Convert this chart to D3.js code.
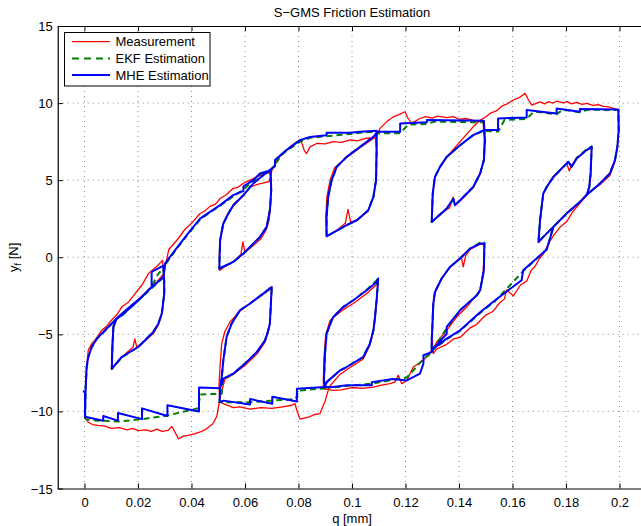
<!DOCTYPE html>
<html><head><meta charset="utf-8">
<script src="https://cdn.jsdelivr.net/npm/d3@7"></script>
<style>body{margin:0;background:#fff}svg{display:block}text{font-family:"Liberation Sans",Arial,Helvetica,sans-serif}</style>
</head><body><svg id="c" width="641" height="526"></svg>
<script>
// ---------- data ----------
const title = "S\u2212GMS Friction Estimation";
const xTicks = [0,0.02,0.04,0.06,0.08,0.1,0.12,0.14,0.16,0.18,0.2];
const yTicks = [-15,-10,-5,0,5,10,15];
const seriesNames = ["Measurement","EKF Estimation","MHE Estimation"];

// MHE estimate: ascending pass (q increasing, with inner loops)
const mheRise = [[0.0002,-10.35],[0.0004,-8.64],[0.0008,-7.12],[0.0014,-6.47],[0.0027,-5.82],[0.0046,-5.28],[0.0064,-4.96],[0.0089,-4.52],[0.0126,-3.88],[0.0176,-3.12],[0.0214,-2.58],[0.0251,-1.93],[0.0251,-0.95],[0.0295,-0.55],
[0.0298,-1.6],[0.0298,-2.36],[0.0289,-3.66],[0.0276,-4.31],[0.0257,-4.85],[0.0201,-5.82],[0.0139,-6.47],[0.0102,-7.23],
[0.0104,-6.0],[0.0108,-4.5],[0.012,-3.98],[0.0139,-3.77],[0.0189,-3.0],[0.0239,-2.14],[0.0295,-1.28],[0.0301,-0.41],[0.0338,0.45],
[0.0385,1.5],[0.0432,2.51],[0.0469,2.94],[0.0507,3.38],[0.0556,4.03],[0.0594,4.3],[0.0594,4.6],[0.0631,5.0],[0.0656,5.43],[0.0696,5.65],
[0.0698,4.35],[0.0693,3.05],[0.0681,1.97],[0.0656,1.32],[0.0594,0.24],[0.0556,-0.30],[0.0504,-0.73],
[0.0507,1.10],[0.0519,2.19],[0.0538,2.84],[0.0556,3.38],[0.0594,4.03],[0.0631,4.79],[0.0668,5.32],[0.0696,5.7],
[0.0712,5.9],[0.0712,6.3],[0.0755,6.95],[0.0806,7.6],[0.0843,7.8],[0.0905,7.92],[0.0905,8.07],[0.0993,8.07],[0.103,8.14],[0.1092,8.2],
[0.1092,6.95],[0.109,5.0],[0.108,3.92],[0.1061,3.05],[0.1018,2.40],[0.098,2.08],[0.0905,1.36],
[0.0905,2.62],[0.0911,3.92],[0.0924,5.0],[0.0943,5.86],[0.098,6.51],[0.103,7.16],[0.108,7.81],[0.1095,8.14],
[0.118,8.14],[0.118,8.68],[0.128,8.75],[0.128,8.9],[0.1493,8.85],
[0.1497,7.6],[0.1493,6.3],[0.1479,5.43],[0.1453,4.56],[0.1404,3.7],[0.1385,3.38],[0.1379,3.81],[0.1354,3.16],[0.1298,2.29],
[0.1302,4.14],[0.131,5.21],[0.1329,5.86],[0.1354,6.51],[0.1404,7.27],[0.1453,7.92],[0.1493,8.25],
[0.1546,8.25],[0.1546,9.0],[0.1653,9.07],[0.1653,9.55],[0.1765,9.33],[0.1765,9.65],[0.1852,9.44],[0.1852,9.62],[0.1996,9.59]];
// MHE estimate: descending pass
const mheFall = [[0.1996,9.59],[0.1997,8.25],[0.1992,7.16],[0.1983,6.3],[0.1964,5.43],[0.1927,4.79],[0.1877,4.03],[0.1852,3.59],[0.1802,2.83],[0.1753,1.97],[0.1715,1.32],[0.1697,0.99],
[0.1703,2.40],[0.1715,4.14],[0.1728,4.56],[0.1753,5.21],[0.179,5.86],[0.1809,6.19],[0.1821,5.86],[0.184,6.41],[0.1877,6.95],[0.1896,7.16],
[0.1892,5.43],[0.1887,4.56],[0.1877,4.03],[0.1852,3.59],[0.1802,2.83],[0.1753,1.97],[0.1728,0.5],[0.164,-0.84],[0.1634,-1.49],[0.1535,-2.79],[0.148,-3.55],[0.1404,-4.74],[0.1354,-5.28],[0.1304,-5.93],[0.1298,-6.15],
[0.1298,-5.39],[0.1304,-3.0],[0.131,-2.25],[0.1335,-1.38],[0.1366,-0.63],[0.1404,-0.08],[0.1441,0.56],[0.1479,0.89],[0.1495,0.89],
[0.1493,-0.84],[0.1479,-2.14],[0.1467,-2.47],[0.1404,-3.44],[0.1354,-4.52],[0.1354,-4.96],[0.1304,-5.93],[0.1298,-6.15],
[0.1267,-6.36],[0.1267,-6.9],[0.1254,-7.55],[0.1205,-7.99],[0.1153,-7.9],[0.1074,-8.1],[0.1074,-8.3],[0.098,-8.31],[0.093,-8.42],[0.0899,-8.42],
[0.0895,-7.99],[0.0899,-6.25],[0.0905,-4.96],[0.0924,-4.09],[0.093,-3.88],[0.0967,-3.23],[0.1005,-2.79],[0.1055,-2.14],[0.1092,-1.6],[0.1098,-1.38],
[0.1092,-2.79],[0.1086,-3.88],[0.108,-4.74],[0.1067,-5.6],[0.1042,-6.47],[0.098,-7.12],[0.0955,-7.34],[0.0905,-8.1],[0.0899,-8.42],
[0.0794,-8.53],[0.0794,-9.35],[0.0702,-9.05],[0.0702,-9.5],[0.0619,-9.2],[0.0619,-9.55],[0.052,-9.3],[0.0505,-9.4],
[0.0507,-8.5],[0.0513,-7.77],[0.0519,-6.69],[0.0531,-5.18],[0.055,-4.31],[0.0581,-3.44],[0.0619,-3.0],[0.0668,-2.36],[0.0693,-2.03],[0.07,-1.93],
[0.0696,-3.23],[0.0693,-4.31],[0.0687,-4.74],[0.0675,-5.39],[0.0644,-6.15],[0.06,-6.9],[0.0556,-7.55],[0.0519,-7.88],
[0.0507,-8.5],[0.0428,-8.45],[0.0428,-10.0],[0.031,-9.6],[0.031,-10.3],[0.0215,-9.8],[0.0215,-10.5],[0.0125,-10.1],[0.0125,-10.6],[0.007,-10.3],[0.007,-10.6],[0.0002,-10.35],[0.0002,-8.7],[-0.0006,-8.7]];

// EKF estimate
const ekfRise = [[0.0002,-10.5],[0.0004,-8.7],[0.0008,-7.2],[0.0014,-6.5],[0.0027,-5.85],[0.0046,-5.3],[0.0064,-5.0],[0.0089,-4.55],[0.0126,-3.9],[0.0176,-3.15],[0.0214,-2.6],[0.0251,-1.9],[0.0275,-1.1],[0.0295,-0.7],
[0.0298,-1.6],[0.0298,-2.36],[0.0289,-3.66],[0.0276,-4.31],[0.0257,-4.85],[0.0201,-5.82],[0.0139,-6.5],[0.0102,-7.25],
[0.0104,-6.0],[0.0108,-4.5],[0.012,-3.98],[0.0139,-3.8],[0.0189,-3.0],[0.0239,-2.2],[0.0295,-1.3],[0.0301,-0.5],[0.0338,0.4],
[0.0385,1.45],[0.0432,2.45],[0.0469,2.9],[0.0507,3.35],[0.0556,3.95],[0.0594,4.4],[0.0631,4.95],[0.0656,5.4],[0.0696,5.6],
[0.0698,4.35],[0.0693,3.05],[0.0681,1.97],[0.0656,1.3],[0.0594,0.22],[0.0556,-0.32],[0.0504,-0.75],
[0.0507,1.10],[0.0519,2.19],[0.0538,2.84],[0.0556,3.38],[0.0594,4.03],[0.0631,4.79],[0.0668,5.32],[0.0696,5.65],
[0.0712,6.0],[0.0735,6.6],[0.0755,6.9],[0.0806,7.5],[0.0843,7.75],[0.0905,7.85],[0.0993,8.0],[0.103,8.08],[0.1092,8.15],
[0.1092,6.95],[0.109,5.0],[0.108,3.92],[0.1061,3.05],[0.1018,2.40],[0.098,2.08],[0.0905,1.36],
[0.0905,2.62],[0.0911,3.92],[0.0924,5.0],[0.0943,5.86],[0.098,6.51],[0.103,7.16],[0.108,7.81],[0.1095,8.05],
[0.118,8.05],[0.121,8.6],[0.128,8.65],[0.131,8.8],[0.1493,8.75],
[0.1497,7.6],[0.1493,6.3],[0.1479,5.43],[0.1453,4.56],[0.1404,3.7],[0.1385,3.38],[0.1379,3.75],[0.1354,3.16],[0.1298,2.29],
[0.1302,4.14],[0.131,5.21],[0.1329,5.86],[0.1354,6.51],[0.1404,7.27],[0.1453,7.92],[0.1493,8.2],
[0.1546,8.15],[0.157,8.9],[0.1653,8.98],[0.168,9.45],[0.1765,9.28],[0.179,9.58],[0.1852,9.4],[0.188,9.57],[0.1996,9.55]];
const ekfFall = [[0.1996,9.55],[0.1997,8.25],[0.1992,7.16],[0.1983,6.3],[0.1964,5.43],[0.1927,4.79],[0.1877,4.03],[0.1852,3.59],[0.1802,2.83],[0.1753,1.97],[0.1715,1.32],[0.1697,0.99],
[0.1703,2.40],[0.1715,4.14],[0.1728,4.56],[0.1753,5.21],[0.179,5.86],[0.1809,6.19],[0.1821,5.9],[0.184,6.45],[0.1877,7.0],[0.1896,7.2],
[0.1892,5.43],[0.1887,4.56],[0.1877,4.03],[0.1852,3.59],[0.1802,2.83],[0.1753,1.97],[0.1728,0.5],[0.164,-0.9],[0.1535,-2.85],[0.148,-3.6],[0.1404,-4.78],[0.1354,-5.32],[0.1304,-5.98],[0.1298,-6.2],
[0.1298,-5.39],[0.1304,-3.0],[0.131,-2.25],[0.1335,-1.38],[0.1366,-0.63],[0.1404,-0.08],[0.1441,0.56],[0.1479,0.95],[0.1495,0.95],
[0.1493,-0.84],[0.1479,-2.14],[0.1467,-2.47],[0.1404,-3.44],[0.1354,-4.6],[0.1304,-5.98],[0.1298,-6.2],
[0.1267,-6.6],[0.1205,-7.8],[0.1153,-7.95],[0.1074,-8.2],[0.098,-8.35],[0.093,-8.45],[0.0899,-8.45],
[0.0895,-7.99],[0.0899,-6.25],[0.0905,-4.96],[0.0924,-4.09],[0.093,-3.88],[0.0967,-3.23],[0.1005,-2.79],[0.1055,-2.1],[0.1092,-1.5],[0.1098,-1.3],
[0.1092,-2.79],[0.1086,-3.88],[0.108,-4.74],[0.1067,-5.6],[0.1042,-6.47],[0.098,-7.12],[0.0955,-7.34],[0.0905,-8.1],[0.0899,-8.5],
[0.0800,-8.65],[0.0790,-9.2],[0.0700,-9.3],[0.0619,-9.4],[0.0505,-9.4],
[0.0507,-8.5],[0.0513,-7.77],[0.0519,-6.69],[0.0531,-5.18],[0.055,-4.31],[0.0581,-3.44],[0.0619,-3.0],[0.0668,-2.36],[0.0693,-2.0],[0.07,-1.9],
[0.0696,-3.23],[0.0693,-4.31],[0.0687,-4.74],[0.0675,-5.39],[0.0644,-6.15],[0.06,-6.9],[0.0556,-7.55],[0.0519,-7.95],
[0.0513,-8.85],[0.0432,-8.9],[0.0425,-9.8],[0.0300,-10.3],[0.0214,-10.5],[0.0133,-10.65],[0.0050,-10.6],[0.0002,-10.5]];

// Measurement
const measRise = [[0.0002,-9.3],[0.0006,-7.8],[0.0008,-7.1],[0.0014,-6.04],[0.0027,-5.6],[0.0045,-5.25],[0.0064,-4.74],[0.0082,-4.5],[0.0100,-4.1],[0.0120,-3.75],[0.0139,-3.23],[0.0165,-2.9],[0.0189,-2.36],[0.0215,-1.8],[0.0239,-1.06],[0.027,-0.6],[0.0292,-0.2],
[0.0297,-1.5],[0.0298,-2.4],[0.0290,-3.6],[0.0276,-4.4],[0.0257,-4.95],[0.0225,-5.45],[0.0201,-5.75],[0.0195,-5.8],[0.0188,-5.3],[0.0182,-5.8],[0.017,-6.0],[0.0139,-6.5],[0.0102,-7.25],
[0.0101,-6.5],[0.0104,-5.5],[0.0108,-4.6],[0.012,-4.0],[0.0139,-3.7],[0.0165,-3.3],[0.0189,-2.95],[0.0239,-2.1],[0.0270,-1.6],[0.0295,-1.1],[0.0298,-0.9],[0.0315,0.5],
[0.035,1.2],[0.0375,1.8],[0.04,2.2],[0.0432,2.84],[0.0450,3.0],[0.0469,3.3],[0.0490,3.45],[0.0507,3.81],[0.0530,4.05],[0.0556,4.47],[0.0575,4.55],[0.0594,4.8],[0.0619,5.0],[0.0655,5.3],[0.0693,5.5],
[0.0697,4.4],[0.0696,3.4],[0.0690,2.4],[0.0680,1.8],[0.0660,1.2],[0.0620,0.6],[0.0600,0.3],[0.0592,1.0],[0.0585,0.2],[0.0556,-0.3],[0.0530,-0.55],[0.0505,-0.85],
[0.0504,0.2],[0.0507,1.1],[0.0515,2.0],[0.0535,2.8],[0.0556,3.3],[0.0594,4.0],[0.0619,4.55],[0.0650,4.75],[0.0690,4.9],
[0.0700,5.6],[0.0718,6.3],[0.0745,6.8],[0.0768,7.16],[0.0790,7.45],[0.0806,7.6],[0.0815,7.3],[0.0822,6.9],[0.0830,6.73],[0.0843,7.16],[0.0868,7.38],[0.0900,7.35],[0.093,7.5],[0.0960,7.45],[0.0993,7.62],[0.1020,7.55],[0.1055,7.72],[0.1088,7.75],
[0.1092,6.9],[0.109,5.0],[0.108,3.9],[0.106,3.0],[0.102,2.4],[0.0995,2.3],[0.0985,3.1],[0.0975,2.2],[0.094,1.7],[0.0905,1.35],
[0.0902,2.6],[0.0906,3.9],[0.0918,5.0],[0.0935,5.8],[0.0975,6.4],[0.103,7.1],[0.108,7.7],[0.1095,8.0],
[0.1105,8.36],[0.1130,8.8],[0.1154,9.1],[0.1175,9.25],[0.1198,9.44],[0.1210,9.0],[0.1223,8.68],[0.1254,9.0],[0.1275,9.12],[0.1300,9.02],[0.1320,9.15],[0.1354,9.05],[0.1380,9.12],[0.1400,8.95],[0.1425,9.0],[0.1453,8.88],[0.1490,8.75],
[0.1495,7.6],[0.1492,6.3],[0.1479,5.4],[0.1453,4.5],[0.1404,3.65],[0.1385,3.35],[0.1378,3.9],[0.1365,3.2],[0.1354,3.1],[0.1298,2.3],
[0.1301,4.1],[0.131,5.2],[0.1329,5.85],[0.1354,6.5],[0.1404,7.5],[0.1453,8.46],[0.1480,8.9],[0.1500,9.1],[0.1516,9.33],[0.1540,9.5],[0.1560,9.8],[0.1580,9.95],[0.1603,10.2],[0.1625,10.35],[0.1647,10.63],[0.1660,10.2],[0.1672,9.87],[0.1703,10.08],[0.1720,9.95],[0.1735,10.1],[0.1750,10.0],[0.1765,10.12],[0.179,10.02],[0.1805,10.1],[0.1820,9.95],[0.1840,10.05],[0.1860,9.92],[0.1878,9.98],[0.1900,9.85],[0.1920,9.9],[0.1940,9.78],[0.1960,9.75],[0.1977,9.65],[0.1995,9.55]];
const measFall = [[0.1995,9.55],[0.1997,8.2],[0.1992,7.1],[0.1983,6.2],[0.1964,5.3],[0.1927,4.7],[0.1878,4.1],[0.1852,3.6],[0.1802,2.85],[0.1753,2.0],[0.1715,1.3],[0.1697,0.95],
[0.1703,2.4],[0.1715,4.1],[0.1728,4.6],[0.1753,5.25],[0.179,5.9],[0.1803,6.1],[0.1812,5.6],[0.1822,6.0],[0.184,6.4],[0.1877,6.95],[0.1896,7.1],
[0.1893,5.4],[0.1887,4.5],[0.1877,4.0],[0.1852,3.5],[0.1825,2.95],[0.1802,2.3],[0.1780,2.0],[0.1753,1.4],[0.1735,0.9],[0.1715,0.2],[0.1700,-0.1],[0.1684,-0.6],[0.1670,-0.85],[0.1653,-1.55],[0.1630,-1.8],[0.1603,-2.5],[0.1590,-2.3],[0.1578,-2.1],[0.1570,-2.7],[0.1550,-3.0],[0.1528,-3.5],[0.1500,-3.75],[0.1466,-4.35],[0.1440,-4.6],[0.1404,-5.2],[0.1380,-5.3],[0.1354,-5.65],[0.1317,-5.95],[0.1304,-6.25],
[0.1300,-5.3],[0.1303,-3.2],[0.1310,-2.3],[0.1335,-1.4],[0.1366,-0.65],[0.1400,-0.1],[0.1410,-0.1],[0.1416,-0.63],[0.1425,0.1],[0.1441,0.5],[0.1479,0.85],[0.1495,0.8],
[0.1490,-1.06],[0.1479,-2.14],[0.1429,-3.23],[0.1391,-3.88],[0.1354,-4.74],[0.1317,-5.5],[0.1304,-5.9],
[0.1267,-6.69],[0.1229,-7.12],[0.1205,-7.99],[0.1186,-8.2],[0.1173,-7.66],[0.1160,-8.1],[0.1142,-8.2],[0.1105,-8.31],[0.108,-8.42],[0.1040,-8.5],[0.1000,-8.45],[0.0960,-8.6],[0.093,-8.64],[0.0893,-8.53],
[0.0893,-7.9],[0.0896,-6.3],[0.0902,-5.0],[0.0918,-4.1],[0.093,-3.9],[0.0967,-3.4],[0.1005,-3.0],[0.1055,-2.35],[0.109,-1.8],[0.1097,-1.55],
[0.1092,-2.8],[0.1086,-3.9],[0.108,-4.8],[0.1067,-5.7],[0.1042,-6.6],[0.098,-7.3],[0.0955,-7.6],[0.0915,-8.4],[0.0900,-9.3],[0.0880,-10.15],[0.0860,-10.2],[0.0840,-10.35],[0.0806,-10.5],[0.0795,-10.0],[0.0787,-9.5],[0.0775,-9.6],[0.0740,-9.7],[0.0700,-9.8],[0.0660,-9.75],[0.0619,-9.85],[0.0580,-9.7],[0.0556,-9.75],[0.0519,-9.5],[0.0505,-9.3],
[0.0503,-8.2],[0.0507,-7.0],[0.0513,-5.6],[0.0525,-4.8],[0.0544,-4.2],[0.0581,-3.5],[0.0619,-3.0],[0.0668,-2.4],[0.0693,-2.1],[0.0700,-2.0],
[0.0697,-3.2],[0.0693,-4.3],[0.0687,-4.8],[0.0675,-5.5],[0.0644,-6.3],[0.0600,-7.0],[0.0556,-7.6],[0.0525,-7.9],[0.0507,-9.07],[0.0495,-10.3],[0.0480,-10.8],[0.0450,-11.2],[0.0430,-11.35],[0.0410,-11.45],[0.0388,-11.56],[0.0370,-11.6],[0.0351,-11.77],[0.0340,-11.4],[0.0326,-10.97],[0.0313,-11.23],[0.0290,-11.3],[0.0270,-11.15],[0.0250,-11.3],[0.0230,-11.2],[0.0201,-11.25],[0.0180,-11.1],[0.0160,-11.2],[0.0130,-11.05],[0.0100,-11.1],[0.0077,-10.95],[0.0050,-10.9],[0.0030,-10.85],[0.0014,-10.7],[0.0002,-10.37]];

// ---------- drawing ----------
const svg = d3.select("#c");
const L = 57.75, R = 646.25, T = 26, B = 488.5;
const x = d3.scaleLinear().domain([-0.01, 0.21]).range([L, R]);
const y = d3.scaleLinear().domain([-15, 15]).range([B, T]);

svg.append("rect").attr("width",641).attr("height",526).attr("fill","#fff");
svg.append("defs").append("clipPath").attr("id","clip").append("rect")
  .attr("x",L).attr("y",T).attr("width",R-L).attr("height",B-T);

// grid
const grid = svg.append("g").attr("stroke","#6e6e6e").attr("stroke-width",0.8).attr("stroke-dasharray","1,4");
grid.selectAll(".gx").data(xTicks).join("line")
  .attr("x1",d=>x(d)).attr("x2",d=>x(d)).attr("y1",T).attr("y2",B);
grid.selectAll(".gy").data(yTicks.filter(v=>v>-15&&v<15)).join("line")
  .attr("x1",L).attr("x2",R).attr("y1",d=>y(d)).attr("y2",d=>y(d));

// series
const line = d3.line().x(d=>x(d[0])).y(d=>y(d[1]));
const plot = svg.append("g").attr("clip-path","url(#clip)").attr("fill","none")
  .attr("stroke-linejoin","round");
const series = [
  {data: measRise.concat(measFall.slice(1)), color:"#ff0000", w:1.3, dash:null},
  {data: ekfRise.concat(ekfFall.slice(1)), color:"#008000", w:2, dash:"6,4"},
  {data: mheRise.concat(mheFall.slice(1)), color:"#0000ff", w:2, dash:null}
];
series.forEach(s=>{
  plot.append("path").datum(s.data).attr("d",line)
    .attr("stroke",s.color).attr("stroke-width",s.w)
    .attr("stroke-dasharray",s.dash);
});

// axes
const fmtY = d => d<0 ? "\u2212"+Math.abs(d) : String(d);
const fmtX = d => String(+d.toFixed(2));
const ax = svg.append("g").attr("transform",`translate(0,${B})`)
  .call(d3.axisBottom(x).tickValues(xTicks).tickFormat(fmtX).tickSize(-5).tickSizeOuter(0).tickPadding(9));
const ay = svg.append("g").attr("transform",`translate(${L},0)`)
  .call(d3.axisLeft(y).tickValues(yTicks).tickFormat(fmtY).tickSize(-5).tickSizeOuter(0).tickPadding(5));
const at = svg.append("g").attr("transform",`translate(0,${T})`)
  .call(d3.axisTop(x).tickValues(xTicks).tickFormat("").tickSize(-5).tickSizeOuter(0));
[ax,ay,at].forEach(g=>{
  g.selectAll("text").attr("font-size",13).attr("fill","#000").attr("font-family","Liberation Sans, Arial, sans-serif");
  g.selectAll("line").attr("stroke","#000");
  g.select(".domain").attr("stroke","#000").attr("stroke-width",1.2);
});
ay.selectAll("text").attr("dy","0.35em");

// title & labels
svg.append("text").attr("x",(L+R)/2).attr("y",17).attr("text-anchor","middle")
  .attr("font-size",13).text(title);
svg.append("text").attr("x",(L+R)/2).attr("y",523).attr("text-anchor","middle")
  .attr("font-size",13).text("q [mm]");
const yl = svg.append("text").attr("transform",`translate(18,${(T+B)/2}) rotate(-90)`)
  .attr("text-anchor","middle").attr("font-size",13);
yl.append("tspan").text("y");
yl.append("tspan").attr("font-size",9).attr("dy",3).text("f");
yl.append("tspan").attr("dy",-3).text(" [N]");

// legend
const lg = svg.append("g");
lg.append("rect").attr("x",64.5).attr("y",32.5).attr("width",145.5).attr("height",53.5)
  .attr("fill","#fff").attr("stroke","#000").attr("stroke-width",1);
series.forEach((s,i)=>{
  const cy = 41.7 + i*16.7;
  lg.append("line").attr("x1",72).attr("x2",110).attr("y1",cy).attr("y2",cy)
    .attr("stroke",s.color).attr("stroke-width",s.w).attr("stroke-dasharray",s.dash? "7,5":null);
  lg.append("text").attr("x",115.5).attr("y",cy).attr("dy","0.36em").attr("font-size",13).text(seriesNames[i]);
});
</script></body></html>
